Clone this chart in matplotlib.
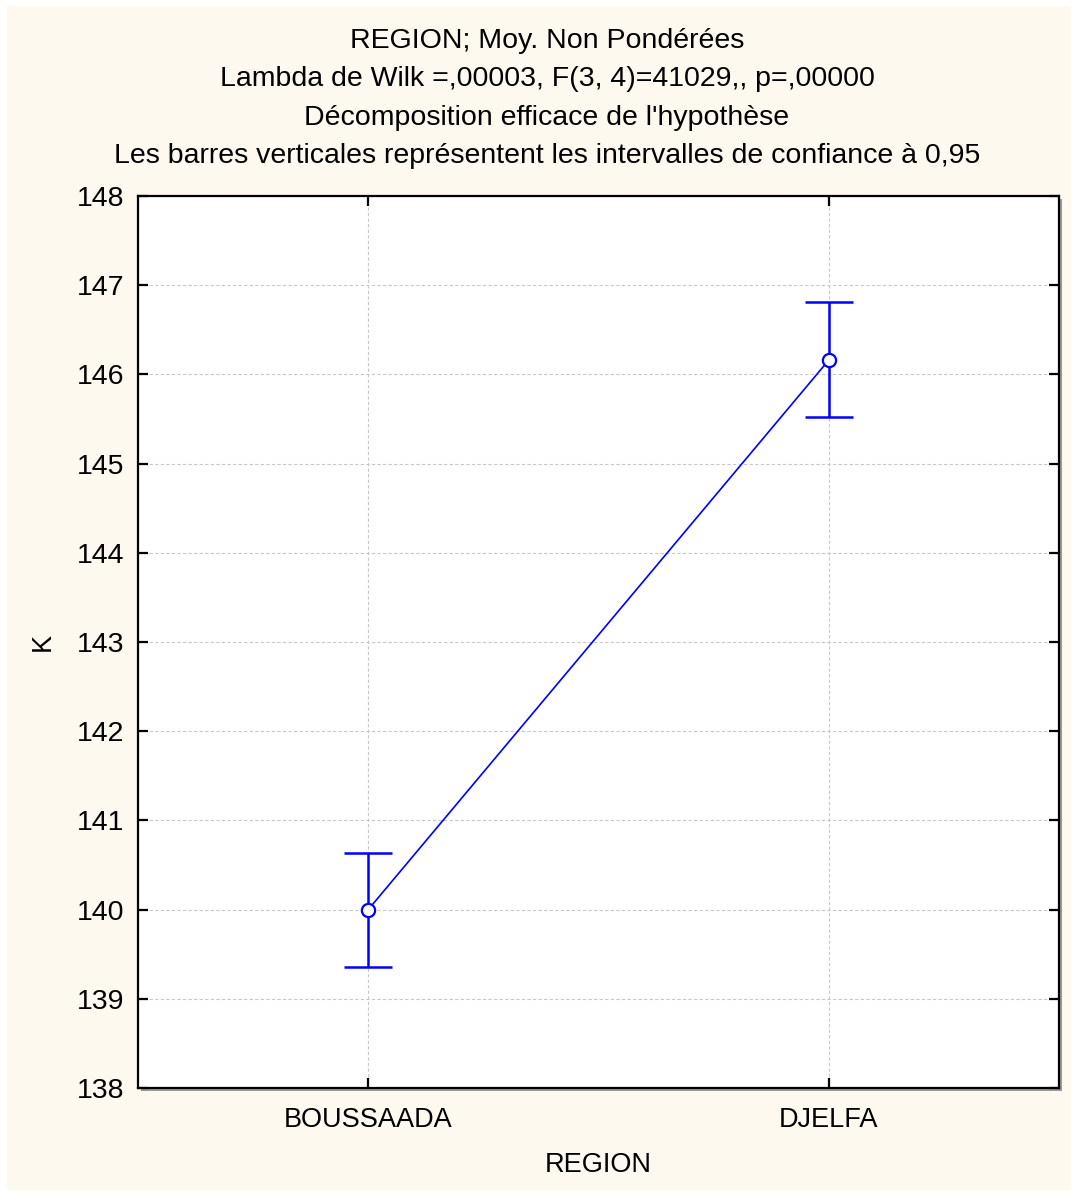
import matplotlib.pyplot as plt
from matplotlib.patches import Rectangle

plt.rcParams['font.family'] = ['Liberation Sans', 'DejaVu Sans']

# données
regions = ['BOUSSAADA', 'DJELFA']
moyennes = [140.0, 146.16]
ic_bas = [139.36, 145.52]
ic_haut = [140.64, 146.81]
y_ticks = [138, 139, 140, 141, 142, 143, 144, 145, 146, 147, 148]
titres = [
    "REGION; Moy. Non Pondérées",
    "Lambda de Wilk =,00003, F(3, 4)=41029,, p=,00000",
    "Décomposition efficace de l'hypothèse",
    "Les barres verticales représentent les intervalles de confiance à 0,95",
]

W, H = 1078, 1196
fig = plt.figure(figsize=(W / 100, H / 100), dpi=100, facecolor='white')

# fond crème
fig.patches.append(Rectangle((7 / W, 6 / H), (1071 - 7) / W, (1190 - 6) / H,
                             transform=fig.transFigure, facecolor='#fdf9ef',
                             edgecolor='none', zorder=0))

left, right, top, bottom = 138, 1059, 196, 1088
# ombre du cadre
fig.patches.append(Rectangle(((left + 3) / W, (H - bottom - 3) / H),
                             (right - left) / W, (bottom - top) / H,
                             transform=fig.transFigure, facecolor='#9a9a9a',
                             edgecolor='none', zorder=1))

ax = fig.add_axes([left / W, (H - bottom) / H, (right - left) / W, (bottom - top) / H])
ax.set_zorder(5)
ax.set_facecolor('white')

x = list(range(len(regions)))
err_bas = [m - b for m, b in zip(moyennes, ic_bas)]
err_haut = [h - m for m, h in zip(moyennes, ic_haut)]

ax.plot(x, moyennes, color='#0000ff', linewidth=1.2, zorder=3)
ax.errorbar(x, moyennes, yerr=[err_bas, err_haut], fmt='none',
            ecolor='#0000ff', elinewidth=1.8, capsize=17, capthick=1.8, zorder=3)
ax.plot(x, moyennes, linestyle='none', marker='o', markersize=9.5,
        markerfacecolor='white', markeredgecolor='#0000ff',
        markeredgewidth=1.6, zorder=4)

ax.set_xlim(-0.5, 1.5)
ax.set_ylim(138, 148)
ax.set_yticks(y_ticks)
ax.set_xticks(x)
ax.set_xticklabels(regions)

ax.grid(True, color='#c8c8c8', linestyle=(0, (3, 2)), linewidth=0.8)
ax.set_axisbelow(True)

for s in ax.spines.values():
    s.set_linewidth(1.6)
    s.set_color('black')

fs = 20.5
ax.tick_params(direction='in', length=7, width=1.6, top=True, right=True)
ax.tick_params(axis='y', pad=10, labelsize=fs)
ax.tick_params(axis='x', pad=14, labelsize=19.5)

ax.set_xlabel('REGION', fontsize=19.5, labelpad=13)
ax.set_ylabel('K', fontsize=19.5, labelpad=15)

for i, t in enumerate(titres):
    fig.text(547 / W, 1 - (41 + i * 38.3) / H, t, ha='center', va='center',
             fontsize=fs)

fig.savefig('out.png', dpi=100, facecolor='white')
